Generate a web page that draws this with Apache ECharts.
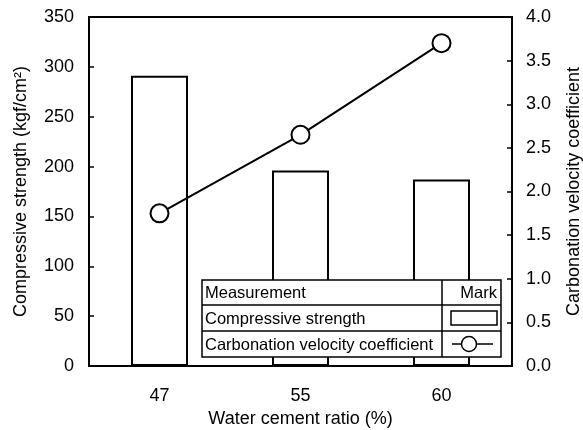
<!DOCTYPE html>
<html>
<head>
<meta charset="utf-8">
<script src="https://cdn.jsdelivr.net/npm/echarts@6/dist/echarts.min.js"></script>
<style>
  html, body { margin: 0; padding: 0; background: #fff; }
  #chart { width: 583px; height: 430px; }
</style>
</head>
<body>
<div id="chart"></div>
<script>
// Water cement ratio categories (%)
const ratios = ['47', '55', '60'];
// Compressive strength (kgf/cm²)
const strength = [291, 196, 187];
// Carbonation velocity coefficient
const carbonation = [1.75, 2.65, 3.7];

// Table-style legend text
const legendHeader = ['Measurement', 'Mark'];
const legendRows = ['Compressive strength', 'Carbonation velocity coefficient'];

const FONT = 'Liberation Sans, Arial, sans-serif';
const ink = '#000';

const chart = echarts.init(document.getElementById('chart'), null, { renderer: 'canvas' });

// Legend table geometry
const L = { x0: 202, x1: 442, x2: 501, y0: 280, y1: 305, y2: 331, y3: 357 };
const lineStyle = { stroke: ink, lineWidth: 1.5 };
function hline(y) {
  return { type: 'line', shape: { x1: L.x0, y1: y, x2: L.x2, y2: y }, style: lineStyle, z: 101 };
}
const textStyle = (t, x, y, align) => ({
  type: 'text', x: x, y: y, z: 102,
  style: { text: t, font: '16.5px ' + FONT, fill: ink, textAlign: align || 'left', textVerticalAlign: 'middle' }
});
const legendGraphic = [
  { type: 'rect', shape: { x: L.x0, y: L.y0, width: L.x2 - L.x0, height: L.y3 - L.y0 },
    style: { fill: '#fff', stroke: ink, lineWidth: 1.5 }, z: 100 },
  hline(L.y1), hline(L.y2),
  { type: 'line', shape: { x1: L.x1, y1: L.y0, x2: L.x1, y2: L.y3 }, style: lineStyle, z: 101 },
  textStyle(legendHeader[0], L.x0 + 3, (L.y0 + L.y1) / 2 + 1),
  textStyle(legendHeader[1], L.x2 - 4, (L.y0 + L.y1) / 2 + 1, 'right'),
  textStyle(legendRows[0], L.x0 + 3, (L.y1 + L.y2) / 2 + 1),
  textStyle(legendRows[1], L.x0 + 3, (L.y2 + L.y3) / 2 + 1),
  // bar mark
  { type: 'rect', shape: { x: 451, y: 311, width: 46, height: 14 },
    style: { fill: '#fff', stroke: ink, lineWidth: 1.5 }, z: 102 },
  // line + circle mark
  { type: 'line', shape: { x1: 452, y1: 344, x2: 493, y2: 344 }, style: lineStyle, z: 102 },
  { type: 'circle', shape: { cx: 469, cy: 344, r: 7.5 },
    style: { fill: '#fff', stroke: ink, lineWidth: 1.5 }, z: 103 }
];

const axisLabelStyle = { color: ink, fontSize: 18, fontFamily: FONT };
const nameStyle = { color: ink, fontSize: 18, fontFamily: FONT };

chart.setOption({
  animation: false,
  backgroundColor: '#fff',
  grid: {
    left: 89, right: 71, top: 17, bottom: 64,
    outerBoundsMode: 'none', containLabel: false,
    show: true, borderColor: ink, borderWidth: 2, backgroundColor: 'transparent'
  },
  xAxis: {
    type: 'category',
    data: ratios,
    name: 'Water cement ratio (%)',
    nameLocation: 'middle',
    nameGap: 41,
    nameTextStyle: nameStyle,
    axisLine: { lineStyle: { color: ink, width: 2 } },
    axisTick: { show: false },
    axisLabel: Object.assign({ margin: 21 }, axisLabelStyle)
  },
  yAxis: [
    {
      type: 'value', min: 0, max: 350, interval: 50,
      name: 'Compressive strength (kgf/cm²)',
      nameLocation: 'middle', nameGap: 59, nameRotate: 90,
      nameTextStyle: nameStyle,
      axisLine: { show: true, lineStyle: { color: ink, width: 2 } },
      axisTick: { show: true, inside: true, length: 5, lineStyle: { color: ink, width: 1.5 } },
      axisLabel: Object.assign({ margin: 15 }, axisLabelStyle),
      splitLine: { show: false }
    },
    {
      type: 'value', min: 0, max: 4, interval: 0.5,
      name: 'Carbonation velocity coefficient',
      nameLocation: 'middle', nameGap: 53, nameRotate: 90,
      nameTextStyle: nameStyle,
      position: 'right',
      axisLine: { show: true, lineStyle: { color: ink, width: 2 } },
      axisTick: { show: true, inside: true, length: 5, lineStyle: { color: ink, width: 1.5 } },
      axisLabel: Object.assign({ margin: 14, formatter: v => v.toFixed(1) }, axisLabelStyle),
      splitLine: { show: false }
    }
  ],
  series: [
    {
      name: 'Compressive strength',
      type: 'bar',
      yAxisIndex: 0,
      data: strength,
      barWidth: 57,
      itemStyle: { color: '#fff', borderColor: ink, borderWidth: 2 },
      z: 2
    },
    {
      name: 'Carbonation velocity coefficient',
      type: 'line',
      yAxisIndex: 1,
      data: carbonation,
      symbol: 'circle',
      symbolSize: 18,
      lineStyle: { color: ink, width: 2 },
      itemStyle: { color: '#fff', borderColor: ink, borderWidth: 2 },
      z: 3
    }
  ],
  graphic: legendGraphic
});
</script>
</body>
</html>
